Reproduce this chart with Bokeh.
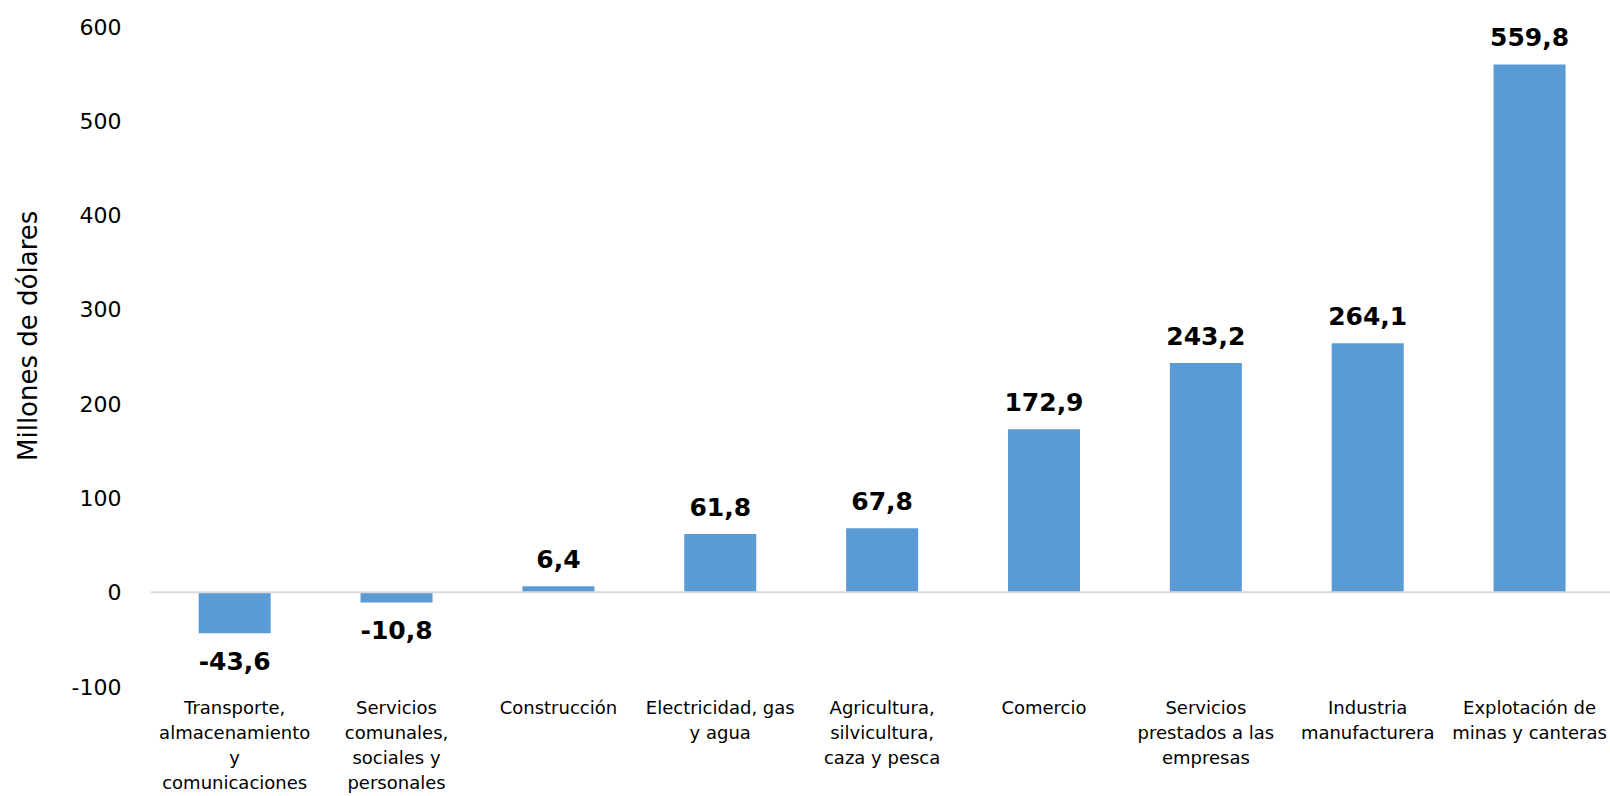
from bokeh.plotting import figure
from bokeh.models import ColumnDataSource, Range1d, Span, FixedTicker
from bokeh.core.properties import value
from bokeh.embed import file_html
from bokeh.resources import INLINE

categories = [
    "Transporte,\nalmacenamiento\ny\ncomunicaciones",
    "Servicios\ncomunales,\nsociales y\npersonales",
    "Construcción",
    "Electricidad, gas\ny agua",
    "Agricultura,\nsilvicultura,\ncaza y pesca",
    "Comercio",
    "Servicios\nprestados a las\nempresas",
    "Industria\nmanufacturera",
    "Explotación de\nminas y canteras",
]
values = [-43.6, -10.8, 6.4, 61.8, 67.8, 172.9, 243.2, 264.1, 559.8]
y_ticks = [-100, 0, 100, 200, 300, 400, 500, 600]
y_title = "Millones de dólares"

xs = list(range(len(categories)))
labels = [f"{v:.1f}".replace(".", ",") for v in values]
pos = [v >= 0 for v in values]

src_pos = ColumnDataSource(dict(
    x=[x for x, p in zip(xs, pos) if p],
    y=[v for v, p in zip(values, pos) if p],
    t=[l for l, p in zip(labels, pos) if p],
))
src_neg = ColumnDataSource(dict(
    x=[x for x, p in zip(xs, pos) if not p],
    y=[v for v, p in zip(values, pos) if not p],
    t=[l for l, p in zip(labels, pos) if not p],
))

p = figure(
    width=1610, height=796,
    x_range=Range1d(-0.52, 8.5),
    y_range=Range1d(-100, 600),
    output_backend="svg", toolbar_location=None,
    min_border_left=150, min_border_right=0, min_border_top=26, min_border_bottom=110,
)
p.outline_line_color = None
p.xgrid.grid_line_color = None
p.ygrid.grid_line_color = None

p.vbar(x=xs, top=values, width=0.445, color="#5B9BD5", line_color=None)

p.add_layout(Span(location=0, dimension="width", line_color="#D9D9D9", line_width=2))

p.text(x="x", y="y", text="t", source=src_pos,
       text_font=value("DejaVu Sans"), text_font_style="bold", text_font_size="25px",
       text_align="center", text_baseline="alphabetic", y_offset=-27, text_color="#000000")
p.text(x="x", y="y", text="t", source=src_neg,
       text_font=value("DejaVu Sans"), text_font_style="bold", text_font_size="25px",
       text_align="center", text_baseline="alphabetic", y_offset=28, text_color="#000000")

p.yaxis.ticker = FixedTicker(ticks=y_ticks)
p.yaxis.major_label_overrides = {t: str(t) for t in y_ticks}
p.yaxis.axis_line_color = None
p.yaxis.major_tick_line_color = None
p.yaxis.minor_tick_line_color = None
p.yaxis.major_tick_out = 0
p.yaxis.major_tick_in = 0
p.yaxis.minor_tick_out = 0
p.yaxis.major_label_text_font = "DejaVu Sans"
p.yaxis.major_label_text_font_size = "22px"
p.yaxis.major_label_text_color = "#000000"
p.yaxis.major_label_standoff = 29
p.yaxis.axis_label = "\u00a0" * 5 + y_title
p.yaxis.axis_label_text_font = "DejaVu Sans"
p.yaxis.axis_label_text_font_style = "normal"
p.yaxis.axis_label_text_font_size = "26px"
p.yaxis.axis_label_text_color = "#000000"
p.yaxis.axis_label_standoff = 26

p.xaxis.ticker = FixedTicker(ticks=xs)
p.xaxis.major_label_overrides = {x: c for x, c in zip(xs, categories)}
p.xaxis.axis_line_color = None
p.xaxis.major_tick_line_color = None
p.xaxis.minor_tick_line_color = None
p.xaxis.major_tick_out = 0
p.xaxis.major_tick_in = 0
p.xaxis.minor_tick_out = 0
p.xaxis.major_label_text_font = "DejaVu Sans"
p.xaxis.major_label_text_font_size = "18px"
p.xaxis.major_label_text_color = "#000000"
p.xaxis.major_label_standoff = 10

open("out.html", "w").write(file_html(p, INLINE))
